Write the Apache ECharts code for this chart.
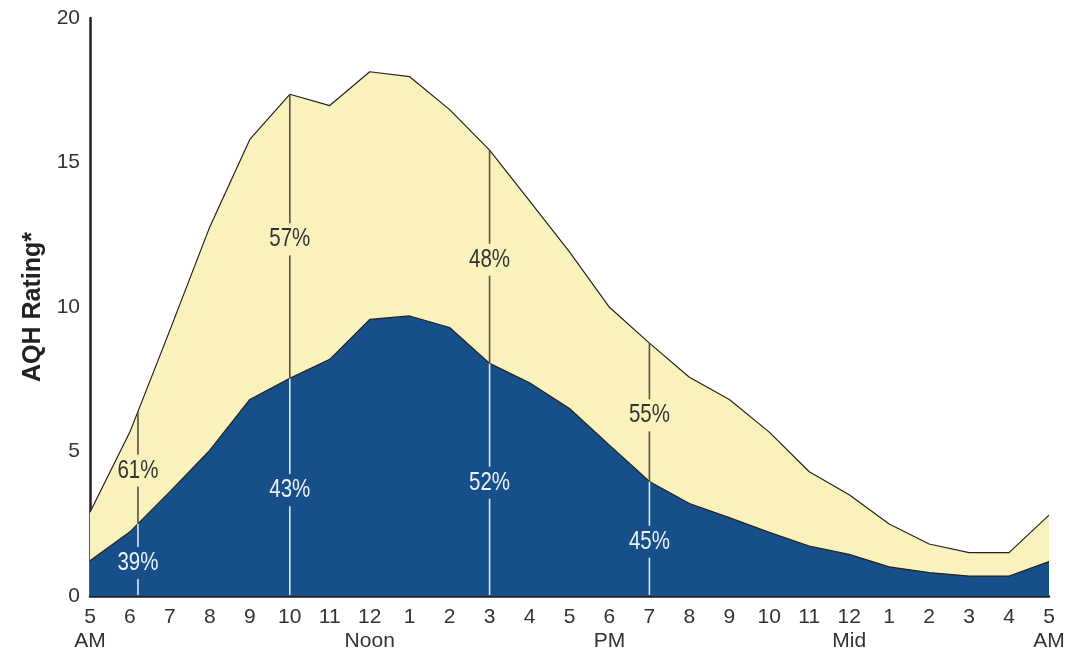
<!DOCTYPE html>
<html>
<head>
<meta charset="utf-8">
<script src="https://cdn.jsdelivr.net/npm/echarts@6/dist/echarts.min.js"></script>
<style>
html,body{margin:0;padding:0;background:#fff;}
#chart{width:1075px;height:653px;}
</style>
</head>
<body>
<div id="chart"></div>
<script>
// Hour tick labels (5 AM to 5 AM)
var hourLabels = ['5\nAM','6','7','8','9','10','11','12\nNoon','1','2','3','4','5','6\nPM','7','8','9','10','11','12\nMid','1','2','3','4','5\nAM'];
// Total AQH rating (top of yellow area)
var totalValues = [2.9, 5.68, 9.2, 12.78, 15.8, 17.36, 16.97, 18.14, 17.97, 16.83, 15.43, 13.67, 11.91, 9.99, 8.75, 7.57, 6.8, 5.67, 4.3, 3.5, 2.49, 1.8, 1.5, 1.5, 2.8];
// Lower (blue) component
var blueValues = [1.22, 2.22, 3.61, 5.05, 6.8, 7.53, 8.19, 9.57, 9.69, 9.29, 8.05, 7.38, 6.49, 5.22, 3.96, 3.2, 2.71, 2.2, 1.73, 1.44, 1.01, 0.81, 0.69, 0.69, 1.19];
// Marker hours (hours after 5 AM) and the share labels
var markerHours = [1.2, 5, 10, 14];
var topShares = ['61%', '57%', '48%', '55%'];
var bottomShares = ['39%', '43%', '52%', '45%'];

var FONT = '"Liberation Sans", Arial, sans-serif';
var YELLOW = '#f9f2bc';
var BLUE = '#164f8a';

function interp(arr, x) {
  var i = Math.floor(x);
  if (i >= arr.length - 1) return arr[arr.length - 1];
  var f = x - i;
  return arr[i] + (arr[i + 1] - arr[i]) * f;
}

var totalData = totalValues.map(function (v, i) { return [i, v]; });
var blueData = blueValues.map(function (v, i) { return [i, v]; });
var markerData = markerHours.map(function (h, i) {
  return [h, interp(blueValues, h), interp(totalValues, h), topShares[i], bottomShares[i]];
});

function label(text, x, y, color, gapColor) {
  return [
    {type: 'rect', shape: {x: x - 4, y: y - 16, width: 8, height: 32}, style: {fill: gapColor}},
    {type: 'text', x: x, y: y, scaleX: 0.82, scaleY: 1,
      style: {text: text, fill: color, font: '25px ' + FONT, align: 'center', verticalAlign: 'middle'}}
  ];
}

var chart = echarts.init(document.getElementById('chart'), null, {renderer: 'canvas'});
chart.setOption({
  animation: false,
  backgroundColor: '#fff',
  grid: {left: 90, right: 26, top: 18, bottom: 57, containLabel: false},
  xAxis: {
    type: 'value', min: 0, max: 24, interval: 1,
    axisLine: {show: true, onZero: false, lineStyle: {color: '#222', width: 2.5}},
    axisTick: {show: false},
    splitLine: {show: false},
    axisLabel: {
      margin: 9,
      color: '#333',
      fontFamily: FONT,
      fontSize: 21,
      lineHeight: 24,
      formatter: function (v) { return hourLabels[Math.round(v)] || ''; }
    }
  },
  yAxis: {
    type: 'value', min: 0, max: 20, interval: 5,
    name: 'AQH Rating*',
    nameLocation: 'middle',
    nameGap: 44,
    nameTextStyle: {fontFamily: FONT, fontSize: 25, fontWeight: 'bold', color: '#222'},
    axisLine: {show: true, lineStyle: {color: '#222', width: 2.5}},
    axisTick: {show: false},
    splitLine: {show: false},
    axisLabel: {margin: 10, color: '#333', fontFamily: FONT, fontSize: 21}
  },
  series: [
    {
      type: 'line', data: totalData, symbol: 'none', z: 2,
      lineStyle: {color: '#222', width: 1.2},
      areaStyle: {color: YELLOW, opacity: 1}
    },
    {
      type: 'line', data: blueData, symbol: 'none', z: 3,
      lineStyle: {color: '#222', width: 1.2},
      areaStyle: {color: BLUE, opacity: 1}
    },
    {
      type: 'custom', z: 5, clip: false,
      data: markerData,
      encode: {x: 0, y: [1, 2]},
      renderItem: function (params, api) {
        var x = api.value(0), b = api.value(1), t = api.value(2);
        var p0 = api.coord([x, 0]);
        var pb = api.coord([x, b]);
        var pt = api.coord([x, t]);
        var topText = markerData[params.dataIndex][3];
        var botText = markerData[params.dataIndex][4];
        var children = [
          {type: 'line', shape: {x1: p0[0], y1: p0[1] - 1, x2: pb[0], y2: pb[1]}, style: {stroke: '#dfe6ee', lineWidth: 1.6}},
          {type: 'line', shape: {x1: pb[0], y1: pb[1], x2: pt[0], y2: pt[1]}, style: {stroke: '#555049', lineWidth: 1.6}}
        ];
        children = children.concat(label(topText, pt[0], (pb[1] + pt[1]) / 2 + 3, '#333', YELLOW));
        children = children.concat(label(botText, p0[0], (p0[1] + pb[1]) / 2 + 3, '#eef2f7', BLUE));
        return {type: 'group', children: children};
      }
    }
  ]
});
</script>
</body>
</html>
